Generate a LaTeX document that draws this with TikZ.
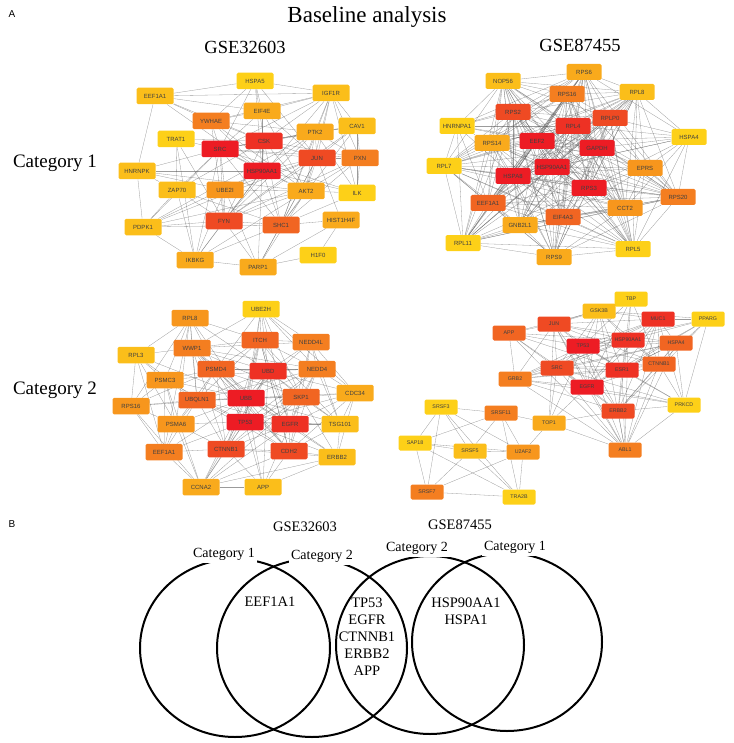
\documentclass[tikz,border=0pt]{standalone}
\usepackage{fontspec}
\setmainfont{Liberation Serif}
\newfontfamily\lsans{Liberation Sans}
\usetikzlibrary{backgrounds}
\definecolor{R1}{HTML}{ED1C24}
\definecolor{R2}{HTML}{EE3124}
\definecolor{R3}{HTML}{EF4A23}
\definecolor{R4}{HTML}{F16522}
\definecolor{R5}{HTML}{F47E20}
\definecolor{R6}{HTML}{F7961D}
\definecolor{R7}{HTML}{F9AA1C}
\definecolor{R8}{HTML}{FBBE1A}
\definecolor{R9}{HTML}{FDD018}
\tikzset{
  gn/.style={rectangle, rounded corners=1.5pt, fill=#1, minimum width=37pt, minimum height=16.5pt, inner sep=0pt, text=black!75, font=\lsans\fontsize{6}{7}\selectfont},
  gm/.style={gn=#1, minimum width=35pt, minimum height=16pt},
  gs/.style={gn=#1, minimum width=33pt, minimum height=15pt, font=\lsans\fontsize{5.3}{6}\selectfont},
  edge/.style={draw=black!65, line width=0.3pt, opacity=0.6},
  maintitle/.style={font=\fontsize{23}{26}\selectfont},
  settitle/.style={font=\fontsize{18.5}{21}\selectfont},
  cattitle/.style={font=\fontsize{19}{22}\selectfont},
  panel/.style={font=\lsans\fontsize{10}{12}\selectfont},
  vlabel/.style={font=\fontsize{14}{16}\selectfont, fill=white, inner sep=2.5pt},
  vgene/.style={font=\fontsize{14.5}{16}\selectfont, align=center},
  venn/.style={line width=2pt},
}
\begin{document}
\begin{tikzpicture}[x=1pt,y=-1pt]
\useasboundingbox (0,0) rectangle (733,743);
% titles
\node[panel] (pA) at (12,14) {A};
\node[maintitle] (title) at (367,17) {Baseline analysis};
\node[settitle] (s1) at (245,47) {GSE32603};
\node[settitle] (s2) at (580,45) {GSE87455};
\node[cattitle] (cat1) at (55,163) {Category 1};
\node[cattitle] (cat2) at (55,390) {Category 2};
% ---------- network 1 ----------
\node[gn=R9] (aHSPA5) at (255,81) {HSPA5};
\node[gn=R8] (aEEF1A1) at (155,96) {EEF1A1};
\node[gn=R8] (aIGF1R) at (331,93) {IGF1R};
\node[gn=R7] (aEIF4E) at (262,111) {EIF4E};
\node[gn=R5] (aYWHAE) at (211,121) {YWHAE};
\node[gn=R8] (aCAV1) at (357,126) {CAV1};
\node[gn=R7] (aPTK2) at (315,132) {PTK2};
\node[gn=R9] (aTRAT1) at (176,139) {TRAT1};
\node[gn=R1] (aSRC) at (220,149) {SRC};
\node[gn=R2] (aCSK) at (264,141) {CSK};
\node[gn=R3] (aJUN) at (317,158) {JUN};
\node[gn=R5] (aPXN) at (360,158) {PXN};
\node[gn=R1] (aHSP90AA1) at (262,171) {HSP90AA1};
\node[gn=R8] (aHNRNPK) at (137,171) {HNRNPK};
\node[gn=R8] (aZAP70) at (177,190) {ZAP70};
\node[gn=R6] (aUBE2I) at (225,190) {UBE2I};
\node[gn=R7] (aAKT2) at (306,191) {AKT2};
\node[gn=R9] (aILK) at (357,193) {ILK};
\node[gn=R8] (aPDPK1) at (143,227) {PDPK1};
\node[gn=R3] (aFYN) at (224,221) {FYN};
\node[gn=R4] (aSHC1) at (281,225) {SHC1};
\node[gn=R7] (aHIST1H4F) at (341,220) {HIST1H4F};
\node[gn=R9] (aH1F0) at (318,255) {H1F0};
\node[gn=R7] (aIKBKG) at (195,260) {IKBKG};
\node[gn=R7] (aPARP1) at (258,267) {PARP1};
% ---------- network 2 ----------
\node[gm=R8] (bNOP56) at (503,81) {NOP56};
\node[gm=R7] (bRPS6) at (584,72) {RPS6};
\node[gm=R5] (bRPS16) at (567,94) {RPS16};
\node[gm=R8] (bRPL8) at (637,92) {RPL8};
\node[gm=R3] (bRPS2) at (513,112) {RPS2};
\node[gm=R3] (bRPLP0) at (610,118) {RPLP0};
\node[gm=R9] (bHNRNPA1) at (457,126) {HNRNPA1};
\node[gm=R2] (bRPL4) at (573,126) {RPL4};
\node[gm=R9] (bHSPA4) at (689,137) {HSPA4};
\node[gm=R7] (bRPS14) at (492,143) {RPS14};
\node[gm=R1] (bEEF2) at (537,141) {EEF2};
\node[gm=R1] (bGAPDH) at (597,148) {GAPDH};
\node[gm=R9] (bRPL7) at (444,166) {RPL7};
\node[gm=R1] (bHSP90AA1) at (552,167) {HSP90AA1};
\node[gm=R6] (bEPRS) at (645,168) {EPRS};
\node[gm=R1] (bHSPA8) at (513,176) {HSPA8};
\node[gm=R1] (bRPS3) at (589,188) {RPS3};
\node[gm=R5] (bRPS20) at (678,197) {RPS20};
\node[gm=R4] (bEEF1A1) at (488,203) {EEF1A1};
\node[gm=R6] (bCCT2) at (625,208) {CCT2};
\node[gm=R4] (bEIF4A3) at (563,217) {EIF4A3};
\node[gm=R7] (bGNB2L1) at (520,225) {GNB2L1};
\node[gm=R9] (bRPL11) at (463,243) {RPL11};
\node[gm=R9] (bRPL5) at (633,249) {RPL5};
\node[gm=R7] (bRPS9) at (554,257) {RPS9};
% ---------- network 3 ----------
\node[gn=R9] (cUBE2H) at (261,309) {UBE2H};
\node[gn=R6] (cRPL8) at (190,318) {RPL8};
\node[gn=R4] (cITCH) at (260,340) {ITCH};
\node[gn=R5] (cNEDD4L) at (311,342) {NEDD4L};
\node[gn=R5] (cWWP1) at (192,348) {WWP1};
\node[gn=R8] (cRPL3) at (136,355) {RPL3};
\node[gn=R4] (cPSMD4) at (216,369) {PSMD4};
\node[gn=R2] (cUBD) at (268,371) {UBD};
\node[gn=R5] (cNEDD4) at (317,369) {NEDD4};
\node[gn=R6] (cPSMC3) at (165,380) {PSMC3};
\node[gn=R7] (cCDC34) at (355,393) {CDC34};
\node[gn=R6] (cRPS16) at (131,406) {RPS16};
\node[gn=R4] (cUBQLN1) at (197,400) {UBQLN1};
\node[gn=R1] (cUBB) at (246,398) {UBB};
\node[gn=R4] (cSKP1) at (301,397) {SKP1};
\node[gn=R6] (cPSMA6) at (176,424) {PSMA6};
\node[gn=R1] (cTP53) at (245,422) {TP53};
\node[gn=R2] (cEGFR) at (290,424) {EGFR};
\node[gn=R8] (cTSG101) at (340,424) {TSG101};
\node[gn=R5] (cEEF1A1) at (164,452) {EEF1A1};
\node[gn=R3] (cCTNNB1) at (226,449) {CTNNB1};
\node[gn=R3] (cCDH2) at (289,451) {CDH2};
\node[gn=R8] (cERBB2) at (337,457) {ERBB2};
\node[gn=R7] (cCCNA2) at (201,487) {CCNA2};
\node[gn=R8] (cAPP) at (263,487) {APP};
% ---------- network 4 ----------
\node[gs=R9] (dTBP) at (631,299) {TBP};
\node[gs=R8] (dGSK3B) at (599,311) {GSK3B};
\node[gs=R2] (dMUC1) at (658,319) {MUC1};
\node[gs=R9] (dPPARG) at (708,319) {PPARG};
\node[gs=R3] (dJUN) at (554,324) {JUN};
\node[gs=R4] (dAPP) at (509,333) {APP};
\node[gs=R2] (dHSP90AA1) at (628,340) {HSP90AA1};
\node[gs=R1] (dTP53) at (583,346) {TP53};
\node[gs=R4] (dHSPA4) at (676,343) {HSPA4};
\node[gs=R4] (dCTNNB1) at (659,364) {CTNNB1};
\node[gs=R3] (dSRC) at (557,368) {SRC};
\node[gs=R2] (dESR1) at (622,370) {ESR1};
\node[gs=R5] (dGRB2) at (515,379) {GRB2};
\node[gs=R1] (dEGFR) at (587,387) {EGFR};
\node[gs=R9] (dPRKCD) at (684,405) {PRKCD};
\node[gs=R3] (dERBB2) at (618,411) {ERBB2};
\node[gs=R7] (dTOP1) at (549,423) {TOP1};
\node[gs=R5] (dABL1) at (625,450) {ABL1};
\node[gs=R9] (dSRSF3) at (441,407) {SRSF3};
\node[gs=R5] (dSRSF11) at (501,413) {SRSF11};
\node[gs=R9] (dSAP18) at (415,443) {SAP18};
\node[gs=R8] (dSRSF5) at (470,451) {SRSF5};
\node[gs=R6] (dU2AF2) at (523,452) {U2AF2};
\node[gs=R5] (dSRSF7) at (427,492) {SRSF7};
\node[gs=R9] (dTRA2B) at (519,497) {TRA2B};
% ---------- edges ----------
\begin{pgfonlayer}{background}
\foreach \u/\v in {HSPA5/EEF1A1, HSPA5/IGF1R, HSPA5/EIF4E, HSPA5/SRC, HSPA5/CSK, HSPA5/HSP90AA1, HSPA5/JUN, HSPA5/YWHAE,
 EEF1A1/YWHAE, EEF1A1/EIF4E, EEF1A1/HNRNPK, EEF1A1/HSP90AA1, EEF1A1/CSK, EEF1A1/IGF1R,
 IGF1R/EIF4E, IGF1R/PTK2, IGF1R/CAV1, IGF1R/SRC, IGF1R/CSK, IGF1R/JUN, IGF1R/PXN, IGF1R/SHC1, IGF1R/AKT2, IGF1R/ILK, IGF1R/FYN, IGF1R/YWHAE,
 EIF4E/YWHAE, EIF4E/HSP90AA1, EIF4E/AKT2, EIF4E/SRC, EIF4E/JUN,
 YWHAE/SRC, YWHAE/HSP90AA1, YWHAE/AKT2, YWHAE/FYN, YWHAE/PTK2, YWHAE/CSK,
 CAV1/PTK2, CAV1/SRC, CAV1/CSK, CAV1/FYN, CAV1/SHC1, CAV1/PXN, CAV1/ILK, CAV1/JUN,
 PTK2/SRC, PTK2/CSK, PTK2/JUN, PTK2/PXN, PTK2/AKT2, PTK2/ILK, PTK2/FYN, PTK2/SHC1, PTK2/HSP90AA1, PTK2/PDPK1,
 TRAT1/SRC, TRAT1/FYN, TRAT1/ZAP70, TRAT1/IKBKG, TRAT1/CSK,
 SRC/CSK, SRC/JUN, SRC/HSP90AA1, SRC/HNRNPK, SRC/ZAP70, SRC/UBE2I, SRC/AKT2, SRC/FYN, SRC/SHC1, SRC/PDPK1, SRC/IKBKG, SRC/PXN, SRC/ILK,
 CSK/JUN, CSK/HSP90AA1, CSK/FYN, CSK/SHC1, CSK/ZAP70, CSK/PXN, CSK/AKT2,
 JUN/PXN, JUN/HSP90AA1, JUN/AKT2, JUN/FYN, JUN/SHC1, JUN/UBE2I, JUN/PDPK1, JUN/PARP1, JUN/HIST1H4F,
 PXN/ILK, PXN/AKT2, PXN/SHC1, PXN/FYN,
 HSP90AA1/HNRNPK, HSP90AA1/UBE2I, HSP90AA1/AKT2, HSP90AA1/FYN, HSP90AA1/SHC1, HSP90AA1/PDPK1, HSP90AA1/IKBKG, HSP90AA1/PARP1, HSP90AA1/ILK,
 HNRNPK/ZAP70, HNRNPK/UBE2I, HNRNPK/PDPK1, HNRNPK/AKT2,
 ZAP70/FYN, ZAP70/PDPK1, ZAP70/IKBKG, ZAP70/SHC1,
 UBE2I/FYN, UBE2I/AKT2, UBE2I/PARP1, UBE2I/IKBKG,
 AKT2/FYN, AKT2/SHC1, AKT2/PDPK1, AKT2/ILK, AKT2/PARP1, AKT2/IKBKG,
 ILK/SHC1, PDPK1/FYN, PDPK1/IKBKG, PDPK1/SHC1, FYN/SHC1, FYN/IKBKG, FYN/PARP1, SHC1/PARP1, SHC1/IKBKG,
 HIST1H4F/H1F0, HIST1H4F/PARP1, H1F0/PARP1, IKBKG/PARP1, HIST1H4F/SHC1}
 \draw[edge] (a\u) -- (a\v);
% network 2 core: complete graph
\def\bcore{NOP56,RPS6,RPS16,RPL8,RPS2,RPLP0,RPL4,RPS14,EEF2,GAPDH,RPL7,HSP90AA1,HSPA8,RPS3,RPS20,EEF1A1,CCT2,EIF4A3,GNB2L1,RPL11,RPL5,RPS9}
\foreach \u [count=\i] in \bcore {
  \foreach \v [count=\j] in \bcore {
    \ifnum\j>\i \draw[edge] (b\u) -- (b\v); \fi
  }
}
\foreach \v in {NOP56, RPS2, RPS14, RPL7, EEF2, HSPA8, RPL4, GAPDH, RPS16, EEF1A1, RPL11, RPS6}
  \draw[edge] (bHNRNPA1) -- (b\v);
\foreach \v in {RPL8, RPLP0, GAPDH, HSP90AA1, HSPA8, EEF2, RPS3, RPS20, RPL5, CCT2, EPRS, RPS6, RPL4}
  \draw[edge] (bHSPA4) -- (b\v);
\foreach \v in {GAPDH, RPS3, HSP90AA1, EEF2, CCT2, RPS20, RPL5, RPLP0, RPL8, RPL4, HSPA8, EIF4A3}
  \draw[edge] (bEPRS) -- (b\v);
% network 3
\def\ccore{UBB,TP53,UBD,EGFR,CTNNB1,SKP1,UBQLN1,PSMD4,CDH2,ITCH,NEDD4,WWP1}
\foreach \u [count=\i] in \ccore {
  \foreach \v [count=\j] in \ccore {
    \ifnum\j>\i \draw[edge] (c\u) -- (c\v); \fi
  }
}
\foreach \u/\v in {UBE2H/ITCH, UBE2H/UBD, UBE2H/NEDD4L, UBE2H/NEDD4, UBE2H/WWP1, UBE2H/UBB, UBE2H/PSMD4, UBE2H/SKP1, UBE2H/CDC34, UBE2H/TP53, UBE2H/EGFR,
 RPL8/WWP1, RPL8/PSMD4, RPL8/UBQLN1, RPL8/RPL3, RPL8/RPS16, RPL8/PSMC3, RPL8/PSMA6, RPL8/EEF1A1, RPL8/UBB, RPL8/ITCH, RPL8/UBD,
 RPL3/PSMC3, RPL3/RPS16, RPL3/EEF1A1, RPL3/UBB, RPL3/UBQLN1, RPL3/PSMA6, RPL3/WWP1,
 NEDD4L/ITCH, NEDD4L/UBD, NEDD4L/NEDD4, NEDD4L/UBB, NEDD4L/WWP1, NEDD4L/CDC34, NEDD4L/SKP1, NEDD4L/EGFR, NEDD4L/TSG101,
 PSMC3/PSMD4, PSMC3/UBQLN1, PSMC3/UBB, PSMC3/PSMA6, PSMC3/RPS16, PSMC3/EEF1A1, PSMC3/UBD, PSMC3/TP53, PSMC3/CCNA2,
 CDC34/NEDD4, CDC34/SKP1, CDC34/UBB, CDC34/UBD, CDC34/EGFR, CDC34/TSG101, CDC34/TP53, CDC34/CDH2, CDC34/ERBB2,
 RPS16/UBQLN1, RPS16/PSMA6, RPS16/EEF1A1, RPS16/UBB, RPS16/CCNA2, RPS16/PSMD4,
 PSMA6/UBQLN1, PSMA6/UBB, PSMA6/PSMD4, PSMA6/TP53, PSMA6/EEF1A1, PSMA6/CCNA2, PSMA6/CTNNB1,
 TSG101/EGFR, TSG101/SKP1, TSG101/UBB, TSG101/UBD, TSG101/NEDD4, TSG101/CDH2, TSG101/ERBB2, TSG101/TP53, TSG101/ITCH,
 EEF1A1/UBB, EEF1A1/TP53, EEF1A1/CTNNB1, EEF1A1/CCNA2, EEF1A1/UBQLN1,
 ERBB2/EGFR, ERBB2/CDH2, ERBB2/CTNNB1, ERBB2/TP53, ERBB2/SKP1, ERBB2/APP, ERBB2/CCNA2, ERBB2/UBB,
 CCNA2/CTNNB1, CCNA2/TP53, CCNA2/UBB, CCNA2/CDH2, CCNA2/EGFR, CCNA2/SKP1, CCNA2/APP, CCNA2/UBD,
 APP/TP53, APP/EGFR, APP/CTNNB1, APP/CDH2, APP/UBB, APP/UBD}
 \draw[edge] (c\u) -- (c\v);
% network 4
\def\dcore{JUN,HSP90AA1,TP53,SRC,ESR1,EGFR,ERBB2,CTNNB1,MUC1,HSPA4,ABL1,GRB2}
\foreach \u [count=\i] in \dcore {
  \foreach \v [count=\j] in \dcore {
    \ifnum\j>\i \draw[edge] (d\u) -- (d\v); \fi
  }
}
\foreach \u/\v in {APP/JUN, APP/TP53, APP/SRC, APP/GRB2, APP/EGFR, APP/ESR1, APP/GSK3B, APP/ABL1, APP/HSP90AA1,
 GSK3B/TP53, GSK3B/JUN, GSK3B/CTNNB1, GSK3B/MUC1, GSK3B/HSP90AA1, GSK3B/ESR1, GSK3B/SRC, GSK3B/EGFR, GSK3B/PPARG, GSK3B/ABL1,
 TBP/TP53, TBP/ESR1, TBP/HSP90AA1, TBP/JUN, TBP/EGFR, TBP/CTNNB1, TBP/GSK3B,
 PPARG/MUC1, PPARG/ESR1, PPARG/CTNNB1, PPARG/TP53, PPARG/HSP90AA1, PPARG/EGFR, PPARG/PRKCD, PPARG/ERBB2,
 PRKCD/EGFR, PRKCD/ESR1, PRKCD/ERBB2, PRKCD/SRC, PRKCD/MUC1, PRKCD/HSPA4, PRKCD/CTNNB1, PRKCD/ABL1, PRKCD/TP53, PRKCD/GRB2,
 TOP1/TP53, TOP1/JUN, TOP1/EGFR, TOP1/ERBB2, TOP1/ABL1, TOP1/SRC, TOP1/SRSF11, TOP1/U2AF2,
 SRSF3/SRSF11, SRSF3/SAP18, SRSF3/SRSF5, SRSF3/U2AF2, SRSF3/SRSF7, SRSF3/TRA2B,
 SRSF11/SAP18, SRSF11/SRSF5, SRSF11/U2AF2, SRSF11/TRA2B,
 SAP18/SRSF5, SAP18/SRSF7, SAP18/U2AF2, SAP18/TRA2B,
 SRSF5/U2AF2, SRSF5/SRSF7, SRSF5/TRA2B, U2AF2/SRSF7, U2AF2/TRA2B, SRSF7/TRA2B}
 \draw[edge] (d\u) -- (d\v);
\end{pgfonlayer}
% ---------- panel B ----------
\node[panel] (pB) at (12,524) {B};
\node[font=\fontsize{14.5}{16}\selectfont] (vs1) at (305,527) {GSE32603};
\node[font=\fontsize{14.5}{16}\selectfont] (vs2) at (460,525) {GSE87455};
\draw[venn] (235,648) ellipse [x radius=95pt, y radius=89pt];
\draw[venn] (312,648) ellipse [x radius=95pt, y radius=89pt];
\draw[venn] (430,645) ellipse [x radius=94pt, y radius=89pt];
\draw[venn] (507,642) ellipse [x radius=95pt, y radius=89pt];
\node[vlabel] (vc1) at (224,554) {Category 1};
\node[vlabel] (vc2) at (322,556) {Category 2};
\node[vlabel] (vc3) at (417,548) {Category 2};
\node[vlabel] (vc4) at (515,547) {Category 1};
\node[vgene] (vg1) at (270,602) {EEF1A1};
\node[vgene] (vg2) at (367,637) {TP53\\[1pt]EGFR\\[1pt]CTNNB1\\[1pt]ERBB2\\[1pt]APP};
\node[vgene] (vg3) at (466,611) {HSP90AA1\\[1pt]HSPA1};
\end{tikzpicture}
\end{document}
